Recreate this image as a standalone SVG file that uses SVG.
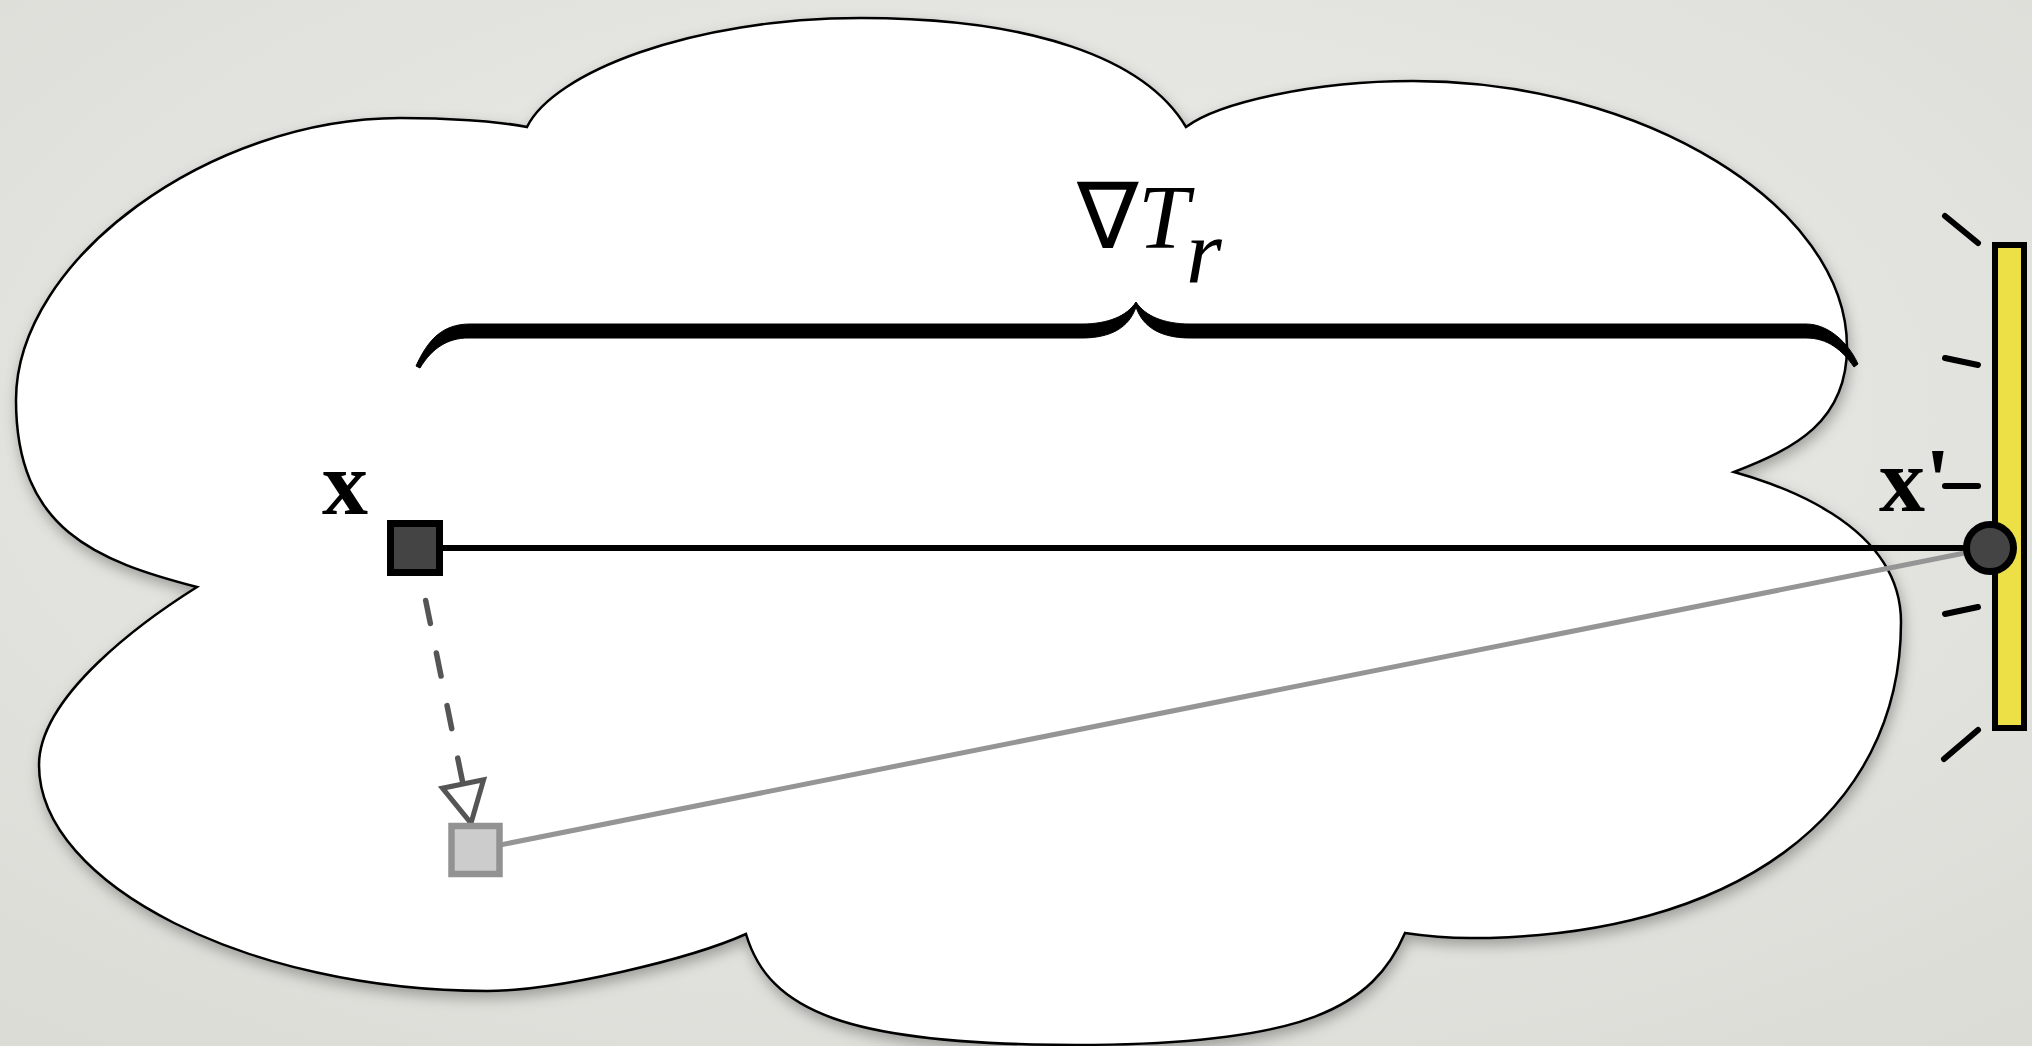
<svg xmlns="http://www.w3.org/2000/svg" width="2032" height="1046" viewBox="0 0 2032 1046">
  <defs>
    <radialGradient id="paper" cx="50%" cy="40%" r="75%">
      <stop offset="0" stop-color="#ededea"/>
      <stop offset="1" stop-color="#dcdcd7"/>
    </radialGradient>
    <filter id="softShadow" x="-5%" y="-5%" width="110%" height="115%">
      <feDropShadow dx="2" dy="6" stdDeviation="7" flood-color="#000" flood-opacity="0.3"/>
    </filter>
    <marker id="openTriangle" markerUnits="userSpaceOnUse" viewBox="-4 -26 50 52" markerWidth="50" markerHeight="52" refX="0" refY="0" orient="auto">
      <path d="M0,-21 L40,0 L0,21 Z" fill="#fff" stroke="#555" stroke-width="5" stroke-linejoin="miter"/>
    </marker>
    <style>
      .cloud { fill: #fff; stroke: #000; stroke-width: 2.5; }
      .label { font-family: "Liberation Serif", "Times New Roman", serif; font-size: 92px; fill: #000; }
      .bold { font-weight: bold; }
      .tick { stroke: #000; stroke-width: 6; stroke-linecap: round; fill: none; }
      .main { stroke: #000; stroke-width: 6; fill: none; }
      .ray { stroke: #959595; stroke-width: 5; fill: none; }
      .move { stroke: #555; stroke-width: 5.5; stroke-linecap: round; stroke-dasharray: 23.5 30.1; stroke-dashoffset: 0; fill: none; }
    </style>
  </defs>

  <rect width="2032" height="1046" fill="url(#paper)"/>

  <!-- cloud-shaped domain: six lobes meeting at cusps -->
  <g id="domain">
    <path class="cloud" filter="url(#softShadow)" d="M197,587
      C97,561 16,530 16,400
      C16,259 210.5,118 400,118
      C445,118 497,121 527,127
      C553,73 691,18 861,18
      C1031,18 1145,58 1186,127
      C1218,103 1313,81 1413,81
      C1643,81 1847,206 1847,347
      C1847,422 1794.5,448.6 1734,472
      C1772.4,482.8 1901,522 1901,622
      C1901,815 1733,938 1470,938
      C1450,938 1425,936 1405,933
      C1373.5,1006.5 1306,1045 1076,1045
      C846,1045 768.7,1010.7 746,934
      C691.4,958.6 557,991 487,991
      C250,991 39,885 39,765
      C39,695 146,619 197,587 Z"/>
  </g>

  <!-- curly brace spanning source to receiver -->
  <g id="brace">
    <path fill="#000" stroke="#000" stroke-width="1" stroke-linejoin="round" d="M416,366
      C428,340 442,324 470,324
      L1082,324
      C1108,324 1127,316 1136,302
      C1145,316 1164,324 1190,324
      L1806,324
      C1828,324 1848,342 1858,364
      L1854,367
      C1842,350 1828,338 1806,338
      L1190,338
      C1162,338 1143,328 1136,307
      C1129,328 1110,338 1082,338
      L468,338
      C448,338 432,348 420,368 Z"/>
    <text class="label" x="1077" y="248" font-family="Liberation Serif, DejaVu Serif, serif">∇</text>
    <text class="label" x="1138" y="248" font-style="italic">T</text>
    <text class="label" x="1186" y="282" font-style="italic">r</text>
  </g>

  <!-- detector bar with radiating ticks -->
  <g id="detector">
    <rect x="1995" y="245" width="29" height="483" fill="#ede046" stroke="#000" stroke-width="6"/>
    <line class="tick" x1="1945" y1="216" x2="1978" y2="243"/>
    <line class="tick" x1="1945" y1="358" x2="1978" y2="365"/>
    <line class="tick" x1="1945" y1="486" x2="1978" y2="486"/>
    <line class="tick" x1="1945" y1="614" x2="1978" y2="607"/>
    <line class="tick" x1="1944" y1="759" x2="1978" y2="730"/>
  </g>

  <!-- connectors -->
  <g id="connectors">
    <line class="main" x1="415" y1="548" x2="1990" y2="548"/>
    <line class="ray" x1="475" y1="850" x2="1990" y2="548"/>
    <line class="move" x1="415" y1="548" x2="463" y2="784" marker-end="url(#openTriangle)"/>
  </g>

  <!-- nodes -->
  <g id="node-x">
    <rect x="390.5" y="523.5" width="49" height="49" fill="#444" stroke="#000" stroke-width="7"/>
    <text class="label bold" x="322" y="514">x</text>
  </g>
  <g id="node-x-shifted">
    <rect x="451.5" y="826" width="48" height="48" fill="#ccc" stroke="#929292" stroke-width="6.5"/>
  </g>
  <g id="node-x-prime">
    <circle cx="1990" cy="548" r="23.5" fill="#444" stroke="#000" stroke-width="7"/>
    <text class="label bold" x="1879" y="511">x'</text>
  </g>
</svg>
